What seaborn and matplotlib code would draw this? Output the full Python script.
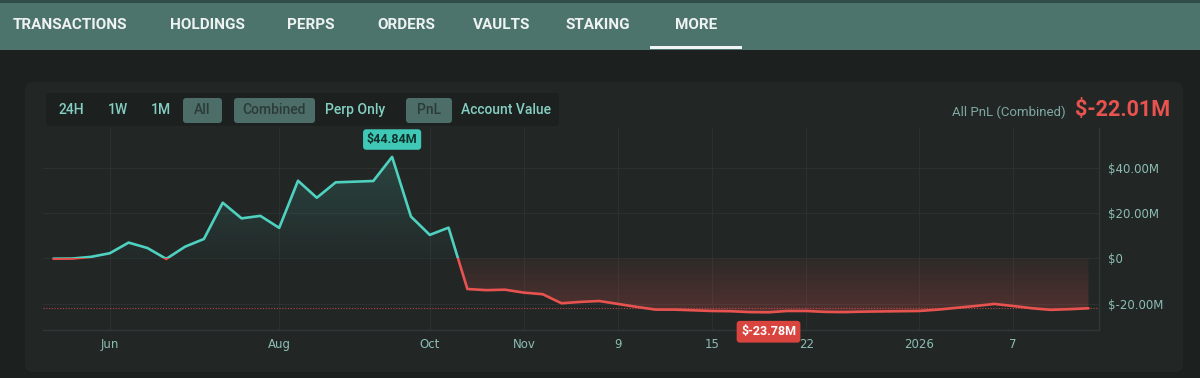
import numpy as np
import pandas as pd
import seaborn as sns
import matplotlib.pyplot as plt
from matplotlib.patches import Rectangle, FancyBboxPatch, Polygon
from matplotlib.transforms import IdentityTransform

# PnL series (millions USD), one value per sample
pnl = [-0.1, -0.05, 0.7, 2.3, 7.0, 4.6, -0.2, 5.2, 8.6, 24.6,
       17.7, 18.8, 13.5, 34.3, 26.8, 33.6, 33.9, 34.2, 44.84, 18.5,
       10.4, 13.6, -13.5, -14.0, -13.8, -15.1, -15.8, -19.8, -19.2, -18.8,
       -20.1, -21.4, -22.6, -22.6, -22.9, -23.2, -23.3, -23.7, -23.78, -23.2,
       -23.2, -23.6, -23.7, -23.5, -23.4, -23.3, -23.2, -22.6, -21.8, -21.0,
       -20.1, -21.0, -22.0, -22.7, -22.4, -22.01]
current_pnl = -22.01

tick_pos = [3, 12, 20, 25, 30, 35, 40, 46, 51]
tick_labels = ["Jun", "Aug", "Oct", "Nov", "9", "15", "22", "2026", "7"]
ytick_vals = [40, 20, 0, -20]
ytick_labels = ["$40.00M", "$20.00M", "$0", "$-20.00M"]

nav_items = ["TRANSACTIONS", "HOLDINGS", "PERPS", "ORDERS", "VAULTS", "STAKING", "MORE"]
range_btns = ["24H", "1W", "1M", "All"]
mode_btns = ["Combined", "Perp Only"]
metric_btns = ["PnL", "Account Value"]

TEAL = "#4fd1c0"
RED = "#e8534f"
BG = "#1c2120"
CARD = "#222726"
TICK = "#8cbdb3"

W, H = 1200, 378

sns.set_theme(style="dark")
plt.rcParams["font.family"] = ["Roboto", "DejaVu Sans"]

fig = plt.figure(figsize=(W / 100, H / 100), dpi=100)
fig.patch.set_facecolor(BG)


def box(x0, y0, x1, y1, color, r=0, z=-5):
    p = FancyBboxPatch((x0, H - y1), x1 - x0, y1 - y0,
                       boxstyle=f"round,pad=0,rounding_size={r}" if r else "square,pad=0",
                       transform=IdentityTransform(), facecolor=color,
                       edgecolor="none", zorder=z)
    fig.patches.append(p)


def ftext(x, y, s, **kw):
    fig.text(x / W, 1 - y / H, s, va="center", **kw)


# nav bar
box(0, 0, W, 50, "#4d736d")
box(0, 0, W, 3, "#2f4c48")
box(650, 46, 742, 49, "#f2f5f4")
nav_x = [13, 170, 287, 377, 473, 566, 675]
for name, x in zip(nav_items, nav_x):
    ftext(x, 25, name, color="#eef3f2", fontsize=11, fontweight="bold", ha="left")

# card + button group
box(25, 82, 1183, 372, CARD, r=8, z=-6)
box(46, 93, 559, 126, "#1c2120", r=4)
box(183, 98, 222, 123, "#4c6d68", r=3, z=-4)
box(234, 98, 315, 123, "#4c6d68", r=3, z=-4)
box(406, 98, 452, 123, "#4c6d68", r=3, z=-4)
for s, x in zip(range_btns + mode_btns + metric_btns,
                [71, 118, 161, 202, 274, 355, 429, 506]):
    active = s in ("All", "Combined", "PnL")
    ftext(x, 110, s, color="#2c3b38" if active else "#84cfc2",
          fontsize=10, fontweight="medium", ha="center")

ftext(1066, 112, "All PnL (Combined)", color="#7fa9a2", fontsize=9.5, ha="right")
ftext(1170, 110, f"${current_pnl:.2f}M", color=RED, fontsize=15.5, fontweight="bold", ha="right")

# chart axes
ax = fig.add_axes([43 / W, 1 - 330 / H, (1099 - 43) / W, (330 - 128) / H])
ax.set_facecolor(CARD)

x = np.arange(len(pnl), dtype=float)
y = np.array(pnl)
# add zero crossings so the two colours and fills split exactly at 0
xd, yd = [], []
for i in range(len(x) - 1):
    xd.append(x[i]); yd.append(y[i])
    if y[i] * y[i + 1] < 0:
        xd.append(x[i] + y[i] / (y[i] - y[i + 1])); yd.append(0.0)
xd.append(x[-1]); yd.append(y[-1])
xd, yd = np.array(xd), np.array(yd)
df = pd.DataFrame({"idx": xd, "pnl": yd})

xmin, xmax = -0.55, 55.56
ymin, ymax = -31.6, 57.6

# gradient fills
top = y.max()
bot = y.min()
n = 200
g = np.zeros((n, 1, 4))
g[:, 0, :3] = [0x4f / 255, 0xd1 / 255, 0xc0 / 255]
g[:, 0, 3] = np.linspace(0.02, 0.18, n)
im = ax.imshow(g, extent=[xmin, xmax, 0, top], origin="lower", aspect="auto", zorder=1)
pos_poly = Polygon(list(zip(xd, np.maximum(yd, 0))) + [(xd[-1], 0), (xd[0], 0)],
                   closed=True, transform=ax.transData)
im.set_clip_path(pos_poly)

g2 = np.zeros((n, 1, 4))
g2[:, 0, :3] = [0xe8 / 255, 0x53 / 255, 0x4f / 255]
g2[:, 0, 3] = np.linspace(0.24, 0.06, n)
im2 = ax.imshow(g2, extent=[xmin, xmax, bot, 0], origin="lower", aspect="auto", zorder=1)
neg_poly = Polygon(list(zip(xd, np.minimum(yd, 0))) + [(xd[-1], 0), (xd[0], 0)],
                   closed=True, transform=ax.transData)
im2.set_clip_path(neg_poly)

# line, teal above zero and red below
for color, clip in [(TEAL, Rectangle((xmin, 0), xmax - xmin, 200, transform=ax.transData)),
                    (RED, Rectangle((xmin, -200), xmax - xmin, 200, transform=ax.transData))]:
    sns.lineplot(data=df, x="idx", y="pnl", color=color, lw=1.9, ax=ax, zorder=3)
    ln = ax.lines[-1]
    ln.set_clip_path(clip)
    ln.set_solid_joinstyle("round")

ax.axhline(current_pnl, color=RED, lw=0.8, ls=(0, (1, 1.5)), alpha=0.75, zorder=2)

ax.set_xlim(xmin, xmax)
ax.set_ylim(ymin, ymax)

# peak / trough labels
imax, imin = int(np.argmax(y)), int(np.argmin(y))
ax.annotate(f"${y[imax]:.2f}M", (x[imax], y[imax]), xytext=(0, 12.5), textcoords="offset points",
            ha="center", va="center", fontsize=9, fontweight="bold", color="#10302b",
            bbox=dict(boxstyle="round,pad=0.3,rounding_size=0.25", fc="#3ec8b5", ec="none"),
            zorder=5, annotation_clip=False)
ax.annotate(f"${y[imin]:.2f}M", (x[imin], y[imin]), xytext=(0, -14), textcoords="offset points",
            ha="center", va="center", fontsize=9, fontweight="bold", color="#ffffff",
            bbox=dict(boxstyle="round,pad=0.35,rounding_size=0.25", fc="#d9443f", ec="none"),
            zorder=5, annotation_clip=False)

ax.set_xticks(tick_pos)
ax.set_xticklabels(tick_labels)
ax.set_yticks(ytick_vals)
ax.set_yticklabels(ytick_labels)
ax.yaxis.tick_right()
ax.tick_params(axis="both", length=0, colors=TICK, labelsize=8.5)
ax.tick_params(axis="y", pad=6.5)
ax.tick_params(axis="x", pad=6)
for lab in ax.get_xticklabels() + ax.get_yticklabels():
    lab.set_family("DejaVu Sans")
ax.grid(True, color="#2b3130", lw=0.8)
ax.set_axisbelow(True)
ax.set_xlabel("")
ax.set_ylabel("")
for side in ["top", "left"]:
    ax.spines[side].set_visible(False)
for side in ["bottom", "right"]:
    ax.spines[side].set_color("#303736")
    ax.spines[side].set_linewidth(1)

fig.savefig("out.png", dpi=100, facecolor=BG)
